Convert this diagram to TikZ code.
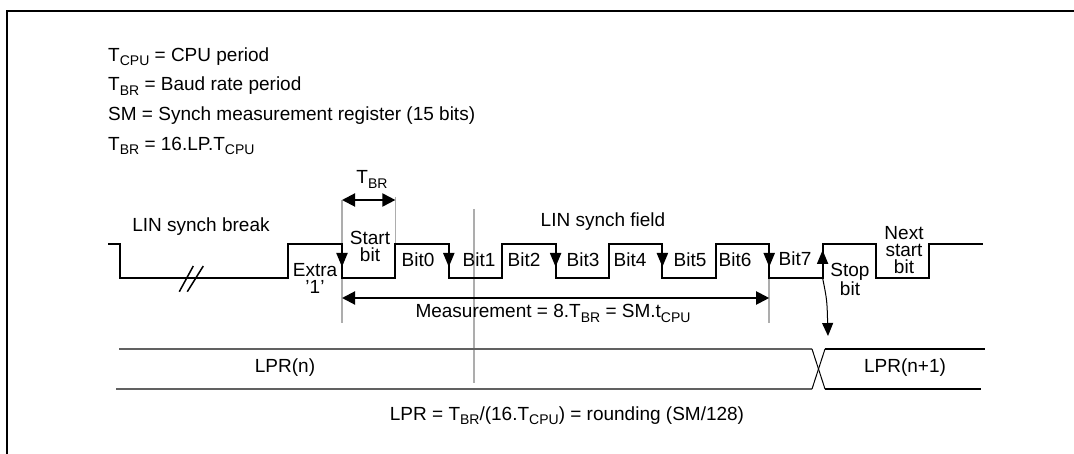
\documentclass[tikz,border=0pt]{standalone}
\usepackage{fontspec}
\setmainfont{Liberation Sans}
\usetikzlibrary{arrows.meta, positioning}

\newcommand{\lsub}[1]{\raisebox{-4.5pt}{\fontsize{14}{14}\selectfont #1}}

\begin{document}
\begin{tikzpicture}[x=1pt, y=-1pt, font=\fontsize{19}{19}\selectfont,
  wave/.style={line width=2pt},
  guide/.style={draw=black!32, line width=1.5pt},
  edgetip/.style={-{Triangle[length=14pt, width=11pt]}, line width=2pt},
  dim/.style={{Triangle[length=13pt, width=13pt]}-{Triangle[length=13pt, width=13pt]}, line width=2pt},
  txt/.style={inner sep=0pt},
  stack/.style={inner sep=0pt, align=center, anchor=north, font=\fontsize{19}{17}\selectfont}]

\useasboundingbox (0,0) rectangle (1074,454);

% frame
\draw[line width=2pt] (7,454) -- (7,11) -- (1074,11);

% definitions
\node[txt, anchor=base west] (tcpu) at (108,61.5) {T\lsub{CPU} = CPU period};
\node[txt, anchor=base west] (tbr) at (108,91) {T\lsub{BR} = Baud rate period};
\node[txt, anchor=base west] (sm) at (108,120.5) {SM = Synch measurement register (15 bits)};
\node[txt, anchor=base west] (lp) at (108,150.5) {T\lsub{BR} = 16.LP.T\lsub{CPU}};

% bit edges
\foreach \k in {0,...,11} {
  \coordinate (h\k) at ({342+53.4*\k},244);
  \coordinate (l\k) at ({342+53.4*\k},278);
}

% grey guides
\draw[guide] (342,200) -- (342,323);
\draw[guide] (395.4,197) -- (395.4,244);
\draw[guide] (474,209) -- (474,383);
\draw[guide] (769.2,243) -- (769.2,323);

% waveform
\draw[wave] (108,244) -- (120,244) -- (120,278) -- (288,278) -- (288,244) -- (h0) -- (l0)
  -- (l1) -- (h1) -- (h2) -- (l2) -- (l3) -- (h3) -- (h4) -- (l4) -- (l5) -- (h5)
  -- (h6) -- (l6) -- (l7) -- (h7) -- (h8) -- (l8) -- (l9) -- (h9) -- (h10) -- (l10)
  -- (l11) -- (h11) -- (983,244);
\draw[line width=1.5pt] (179.3,291.7) -- (193.3,266);
\draw[line width=1.5pt] (187.3,291.7) -- (203.3,266);

\foreach \k in {0,2,4,6,8}
  \draw[edgetip] (h\k) -- ++(0,23);
\draw[edgetip] (l9) -- ++(0,-28);

% labels on the frame
\node[txt, anchor=base] (brk) at (201,231.5) {LIN synch break};
\node[txt, anchor=base] (fld) at (603,227) {LIN synch field};
\node[stack] (extra) at (315,263) {Extra\\'1'};
\node[stack] (start) at (370,231) {Start\\bit};
\node[txt, anchor=base] (b0) at (418,267) {Bit0};
\node[txt, anchor=base] (b1) at (479,267) {Bit1};
\node[txt, anchor=base] (b2) at (524,267) {Bit2};
\node[txt, anchor=base] (b3) at (583,267) {Bit3};
\node[txt, anchor=base] (b4) at (630,267) {Bit4};
\node[txt, anchor=base] (b5) at (690,267) {Bit5};
\node[txt, anchor=base] (b6) at (735,267) {Bit6};
\node[txt, anchor=base] (b7) at (795,266) {Bit7};
\node[stack] (stop) at (850,263) {Stop\\bit};
\node[stack] (next) at (904,226) {Next\\start\\bit};

% T_BR and measurement
\coordinate (tbrl) at (342,200);
\coordinate (tbrr) at (395.4,200);
\draw[dim] (tbrl) -- (tbrr);
\node[txt, anchor=base] (tbrlbl) at (372,184) {T\lsub{BR}};
\coordinate (msl) at (342,298);
\coordinate (msr) at (769.2,298);
\draw[dim] (msl) -- (msr);
\node[txt, anchor=base] (meas) at (553,318) {Measurement = 8.T\lsub{BR} = SM.t\lsub{CPU}};

% LPR register
\draw[line width=2pt, draw=black!62] (119,349) -- (812,349);
\draw[line width=2pt, draw=black!62] (116,389) -- (812,389);
\draw[line width=1pt] (812,349) -- (825,389);
\draw[line width=1pt] (812,389) -- (825,349);
\draw[line width=2pt] (825,349) -- (985,349);
\draw[line width=2pt] (825,389) -- (981,389);
\node[txt, anchor=base] (lprn) at (285,373) {LPR(n)};
\node[txt, anchor=base] (lprn1) at (905,373) {LPR(n+1)};
\coordinate (chg) at (828,336);
\draw[-{Triangle[length=13pt, width=11pt]}, line width=1pt] (l9) .. controls (827,300) .. (chg);

\node[txt, anchor=base] (form) at (567,420) {LPR = T\lsub{BR}/(16.T\lsub{CPU}) = rounding (SM/128)};
\end{tikzpicture}
\end{document}
